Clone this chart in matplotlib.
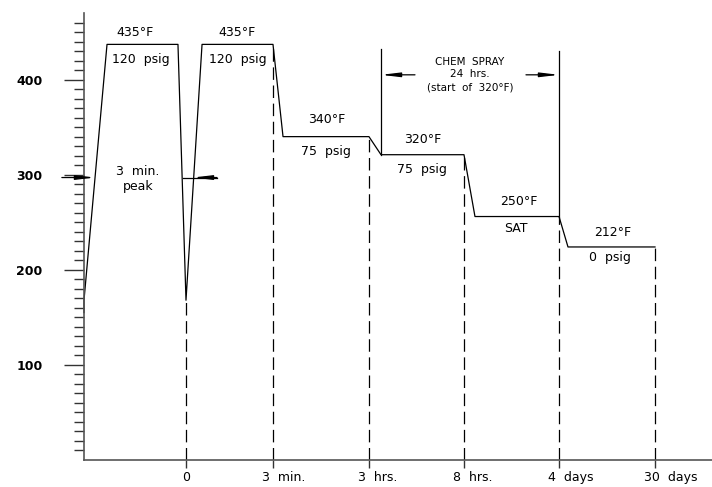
import matplotlib
matplotlib.use("Agg")
import matplotlib.pyplot as plt
from matplotlib.ticker import FixedLocator

# time positions along the x axis (one unit ~ one grid step)
tick_pos = [0, 0.911, 1.916, 2.911, 3.906, 4.911]
tick_labels = ["0", "3  min.", "3  hrs.", "8  hrs.", "4  days", "30  days"]

# temperature profile (deg F)
curve_x = [-1.068, -1.068, -0.827, -0.084, 0, 0.168, 0.911, 1.016, 1.916,
           2.042, 2.911, 3.026, 3.906, 4.0, 4.911]
curve_y = [155, 168, 437, 437, 168, 437, 437, 340, 340,
           321, 321, 256, 256, 224, 224]

# dashed drop lines at each time mark, up to the curve
drop_top = [168, 437, 340, 321, 256, 224]

# chem spray window
spray_x = [2.042, 3.906]
spray_top = [432, 430]
spray_bottom = [321, 256]

# labels on the curve: (x, y, text)
curve_notes = [
    (-0.534, 449, "435°F"), (-0.471, 421, "120  psig"),
    (0.534, 449, "435°F"), (0.545, 421, "120  psig"),
    (1.476, 358, "340°F"), (1.466, 324, "75  psig"),
    (2.482, 337, "320°F"), (2.471, 305, "75  psig"),
    (3.487, 272, "250°F"), (3.455, 243, "SAT"),
    (4.471, 239, "212°F"), (4.44, 213, "0  psig"),
    (-0.503, 303, "3  min."), (-0.503, 288, "peak"),
]


def main():
    fig = plt.figure(figsize=(7.12, 4.87), dpi=100)
    ax = fig.add_axes([84 / 712, 27 / 487, 628 / 712, 447 / 487])
    ax.set_xlim(-1.068, 5.508)
    ax.set_ylim(0, 470)

    for s in ["top", "right"]:
        ax.spines[s].set_visible(False)
    for s in ["left", "bottom"]:
        ax.spines[s].set_color("#555555")
        ax.spines[s].set_linewidth(1.2)

    # y ticks
    ax.set_yticks([100, 200, 300, 400])
    ax.yaxis.set_minor_locator(FixedLocator(list(range(10, 461, 10))))
    ax.tick_params(axis="y", which="major", length=14.4, width=1.0,
                   color="#333333", pad=15.5, labelsize=9)
    ax.tick_params(axis="y", which="minor", length=7.2, width=1.0,
                   color="#333333")
    for lab in ax.get_yticklabels():
        lab.set_fontweight("bold")

    # x ticks, labels drawn by hand
    ax.set_xticks(tick_pos)
    ax.set_xticklabels([])
    ax.tick_params(axis="x", length=6, width=1.0, color="#333333")
    for x, lab in zip(tick_pos, tick_labels):
        if lab == "0":
            ax.text(x, -18, lab, ha="center", va="center", fontsize=9,
                    clip_on=False)
        else:
            ax.text(x - 0.12, -18, lab, ha="left", va="center",
                    fontsize=9, clip_on=False)

    # dashed drop lines
    for x, top in zip(tick_pos, drop_top):
        ax.plot([x, x], [0, top], color="black", lw=0.9,
                dashes=(10, 4.5))

    # temperature curve
    ax.plot(curve_x, curve_y, color="black", lw=0.9, clip_on=False)

    # chem spray bounds
    for x, t, b in zip(spray_x, spray_top, spray_bottom):
        ax.plot([x, x], [b, t], color="black", lw=0.9)

    arrow = dict(arrowstyle="-|>,head_length=1.1,head_width=0.13",
                 color="black", lw=0.9, shrinkA=0, shrinkB=0,
                 mutation_scale=10)
    # chem spray dimension arrows
    ax.annotate("", xy=(spray_x[0], 405), xytext=(2.398, 405),
                arrowprops=arrow)
    ax.annotate("", xy=(spray_x[1], 405), xytext=(3.560, 405),
                arrowprops=arrow)
    # 3 min peak arrows
    ax.annotate("", xy=(-0.953, 297), xytext=(-1.300, 297),
                arrowprops=arrow, annotation_clip=False)
    ax.plot([-0.031, 0.325], [297, 297], color="black", lw=0.9)
    ax.annotate("", xy=(0.073, 297), xytext=(0.325, 297),
                arrowprops=arrow)

    ax.text(2.974, 419, "CHEM  SPRAY", ha="center", va="center", fontsize=7.5)
    ax.text(2.974, 406, "24  hrs.", ha="center", va="center", fontsize=7.5)
    ax.text(2.974, 392, "(start  of  320°F)", ha="center", va="center",
            fontsize=7.5)

    for x, y, t in curve_notes:
        ax.text(x, y, t, ha="center", va="center", fontsize=9)

    fig.savefig("out.png", dpi=100)


if __name__ == "__main__":
    main()
